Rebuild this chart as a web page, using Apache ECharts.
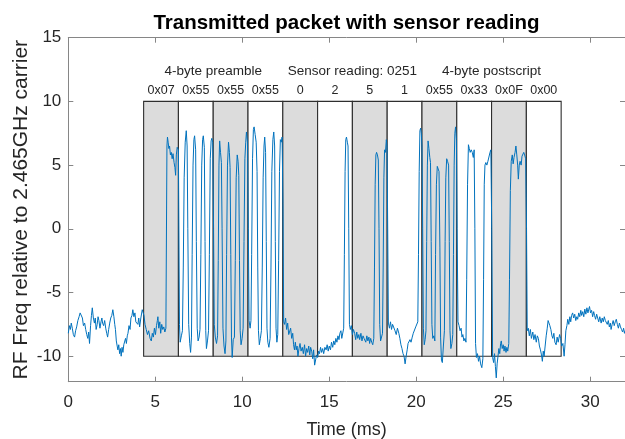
<!DOCTYPE html>
<html><head><meta charset="utf-8">
<script src="https://cdn.jsdelivr.net/npm/echarts@6/dist/echarts.min.js"></script>
<style>html,body{margin:0;padding:0;background:#fff}#chart{width:625px;height:439px}</style>
</head><body><div id="chart"></div>
<script>
// ---- tick labels ----
const xTicks = [0, 5, 10, 15, 20, 25, 30];
const yTicks = [-10, -5, 0, 5, 10, 15];

// ---- byte boxes ----
const byteLabels = ['0x07', '0x55', '0x55', '0x55', '0', '2', '5', '1', '0x55', '0x33', '0x0F', '0x00'];
const byteStarts = [4.33, 6.33, 8.33, 10.33, 12.33, 14.33, 16.33, 18.33, 20.33, 22.33, 24.33, 26.33];
const byteDurationMs = 2;
const boxRange = [-10, 10];
const groupLabels = ['4-byte preamble', 'Sensor reading: 0251', '4-byte postscript'];
const groupByteSpan = [[0, 3], [4, 7], [8, 11]];

const leadIn = [[0.00,-8.2],[0.06,-7.6],[0.12,-7.9],[0.17,-7.4],[0.23,-7.8],[0.29,-8.3],[0.36,-8.5],[0.42,-8.0],[0.48,-7.7],[0.55,-7.2],[0.62,-6.9],[0.68,-6.6],[0.75,-6.5],[0.81,-7.0],[0.87,-7.6],[0.94,-7.4],[1.00,-7.9],[1.06,-8.3],[1.12,-8.6],[1.17,-8.1],[1.22,-9.0],[1.28,-7.6],[1.33,-6.8],[1.38,-6.2],[1.44,-7.0],[1.50,-7.4],[1.55,-7.0],[1.60,-7.9],[1.66,-7.5],[1.71,-6.9],[1.76,-7.2],[1.82,-7.8],[1.88,-7.3],[1.93,-7.0],[1.97,-7.4],[2.03,-7.6],[2.09,-7.2],[2.15,-7.8],[2.21,-8.2],[2.26,-8.5],[2.32,-7.9],[2.38,-7.4],[2.44,-7.0],[2.50,-6.8],[2.56,-6.35],[2.62,-6.9],[2.67,-7.5],[2.71,-7.9],[2.76,-8.8],[2.81,-9.2],[2.85,-9.5],[2.90,-9.1],[2.95,-9.8],[3.00,-9.4],[3.04,-10.0],[3.09,-9.3],[3.14,-9.7],[3.19,-9.1],[3.24,-9.0],[3.29,-8.6],[3.34,-9.0],[3.39,-8.4],[3.43,-8.2],[3.49,-7.6],[3.55,-7.9],[3.60,-7.0],[3.66,-6.8],[3.71,-6.35],[3.77,-6.9],[3.83,-6.6],[3.88,-7.3],[3.94,-7.2],[4.00,-7.5],[4.05,-7.0],[4.10,-7.7],[4.17,-7.0],[4.25,-6.35],[4.29,-6.2],[4.35,-6.8]];
const pre0x07 = [[4.41,-7.5],[4.48,-7.9],[4.55,-8.3],[4.62,-8.0],[4.70,-8.6],[4.77,-8.8],[4.83,-8.2],[4.89,-8.5],[4.95,-7.8],[5.01,-8.3],[5.07,-7.6],[5.12,-7.2],[5.15,-6.9],[5.20,-7.8],[5.26,-7.3],[5.31,-8.2],[5.37,-7.5],[5.43,-7.9],[5.49,-7.7],[5.55,-8.1],[5.61,-7.8],[5.67,6.5],[5.70,7.2],[5.74,6.8],[5.78,6.3],[5.82,6.5],[5.87,5.8],[5.92,6.0],[5.97,5.5],[6.02,5.9],[6.08,5.2],[6.13,4.8],[6.17,4.2],[6.21,5.8],[6.26,6.4],[6.33,6.2],[6.39,-7.5],[6.43,-8.9]];
const pre0x55a = [[6.50,-8.4],[6.56,-8.0],[6.61,-3.0],[6.66,4.0],[6.72,6.8],[6.78,7.7],[6.83,6.5],[6.87,0.0],[6.92,-7.5],[6.98,-9.0],[7.03,-9.7],[7.08,-8.5],[7.12,-2.0],[7.17,5.0],[7.22,7.0],[7.26,7.3],[7.32,6.2],[7.36,-1.0],[7.41,-7.8],[7.46,-8.8],[7.52,-8.5],[7.57,-7.9],[7.62,-2.0],[7.67,5.0],[7.72,7.0],[7.76,7.3],[7.82,6.4],[7.86,-1.0],[7.90,-8.0],[7.94,-9.4],[8.00,-8.8],[8.06,-8.0],[8.11,-2.0],[8.16,5.5],[8.21,6.9],[8.25,7.1],[8.30,6.8],[8.35,0.0],[8.39,-7.5]];
const pre0x55b = [[8.45,-8.5],[8.52,-9.0],[8.58,-8.4],[8.62,-2.5],[8.66,5.0],[8.70,6.9],[8.75,6.0],[8.80,5.2],[8.84,0.0],[8.89,-7.8],[8.95,-9.2],[9.01,-9.8],[9.06,-8.8],[9.10,-2.0],[9.15,5.0],[9.21,6.8],[9.26,6.0],[9.30,4.8],[9.34,-2.0],[9.38,-8.5],[9.42,-10.1],[9.48,-8.7],[9.55,-8.5],[9.60,-2.5],[9.65,4.0],[9.71,5.8],[9.76,5.3],[9.80,4.2],[9.84,-2.5],[9.88,-8.0],[9.93,-9.1],[9.99,-8.6],[10.05,-7.8],[10.10,-1.0],[10.15,5.5],[10.20,6.8],[10.24,7.6],[10.30,6.8],[10.35,0.0],[10.39,-7.2]];
const pre0x55c = [[10.45,-7.8],[10.50,-7.2],[10.54,-2.0],[10.59,5.5],[10.64,7.8],[10.68,8.0],[10.74,7.4],[10.80,6.8],[10.85,4.5],[10.89,-3.0],[10.93,-8.0],[10.98,-9.1],[11.04,-8.6],[11.10,-8.0],[11.15,-3.0],[11.20,4.0],[11.25,6.5],[11.29,7.2],[11.34,6.0],[11.38,-1.0],[11.42,-7.8],[11.47,-8.9],[11.53,-9.3],[11.60,-8.6],[11.65,-3.0],[11.70,4.5],[11.76,7.0],[11.81,7.6],[11.86,6.5],[11.90,-1.0],[11.94,-7.8],[11.99,-8.9],[12.04,-8.3],[12.09,-2.5],[12.14,4.5],[12.19,7.0],[12.24,6.8],[12.29,7.2],[12.34,2.0],[12.38,-7.3]];
const digit0 = [[12.43,-7.5],[12.49,-7.0],[12.55,-7.9],[12.61,-7.4],[12.67,-8.3],[12.72,-8.4],[12.78,-7.8],[12.84,-8.6],[12.90,-8.2],[12.95,-9.1],[13.00,-9.5],[13.05,-8.9],[13.10,-9.5],[13.15,-9.2],[13.20,-10.0],[13.26,-9.4],[13.32,-9.0],[13.38,-9.6],[13.45,-9.3],[13.51,-9.8],[13.58,-9.1],[13.64,-10.0],[13.70,-9.4],[13.76,-9.7],[13.82,-9.2],[13.88,-9.9],[13.93,-9.3],[13.99,-9.6],[14.05,-10.2],[14.10,-9.5],[14.16,-10.7],[14.21,-10.8],[14.27,-9.9]];
const digit2 = [[14.33,-10.1],[14.39,-9.6],[14.44,-9.8],[14.50,-9.3],[14.56,-9.7],[14.62,-9.4],[14.68,-9.8],[14.75,-9.3],[14.82,-9.5],[14.88,-9.1],[14.94,-9.6],[15.00,-9.2],[15.07,-9.5],[15.13,-8.9],[15.20,-9.3],[15.26,-8.8],[15.32,-9.1],[15.38,-8.6],[15.44,-8.9],[15.50,-8.4],[15.56,-8.7],[15.61,-8.2],[15.67,-8.0],[15.72,-8.6],[15.78,-8.5],[15.83,-7.8],[15.87,-2.0],[15.91,4.5],[15.95,7.0],[15.99,7.2],[16.04,6.8],[16.08,6.5],[16.12,0.0],[16.16,-7.5],[16.21,-7.9],[16.27,-7.6]];
const digit5 = [[16.33,-8.3],[16.39,-7.9],[16.46,-8.2],[16.52,-8.7],[16.58,-8.1],[16.64,-8.6],[16.70,-8.3],[16.75,-8.7],[16.82,-8.2],[16.88,-8.8],[16.94,-8.4],[17.00,-8.6],[17.04,-8.5],[17.10,-8.9],[17.16,-8.4],[17.22,-8.8],[17.28,-8.5],[17.32,-9.0],[17.38,-8.6],[17.44,-8.9],[17.50,-9.1],[17.56,-8.6],[17.60,-3.0],[17.64,3.5],[17.68,5.8],[17.72,6.0],[17.77,5.8],[17.82,5.4],[17.86,0.0],[17.90,-7.5],[17.95,-8.8],[18.00,-8.9],[18.06,-8.2],[18.10,-3.0],[18.14,4.0],[18.18,6.2],[18.23,6.0],[18.28,7.0],[18.32,6.5],[18.36,0.0],[18.40,-7.4]];
const digit1 = [[18.46,-7.8],[18.52,-7.3],[18.58,-7.9],[18.64,-7.5],[18.72,-7.4],[18.78,-8.0],[18.85,-8.3],[18.92,-7.8],[19.00,-8.2],[19.06,-8.6],[19.12,-9.1],[19.18,-9.4],[19.24,-9.8],[19.30,-10.0],[19.36,-10.6],[19.42,-10.0],[19.48,-9.5],[19.53,-9.0],[19.58,-9.0],[19.64,-8.7],[19.70,-8.9],[19.77,-8.5],[19.83,-8.2],[19.90,-8.3],[19.97,-7.7],[20.04,-7.6],[20.09,-7.3],[20.13,-2.0],[20.17,4.5],[20.21,7.7],[20.25,7.9],[20.29,7.5],[20.33,6.5],[20.37,0.0],[20.41,-7.8],[20.46,-9.1]];
const post0x55 = [[20.51,-8.7],[20.56,-8.0],[20.60,-1.0],[20.64,5.0],[20.68,6.9],[20.73,6.3],[20.78,5.6],[20.82,5.2],[20.86,-1.0],[20.90,-7.5],[20.95,-8.6],[21.01,-8.4],[21.07,-8.8],[21.11,-2.0],[21.16,3.5],[21.21,4.9],[21.26,4.8],[21.31,4.5],[21.36,-1.5],[21.40,-8.5],[21.45,-10.3],[21.50,-10.5],[21.56,-9.2],[21.62,-8.0],[21.66,-1.0],[21.70,4.0],[21.75,5.5],[21.80,5.3],[21.86,5.0],[21.90,-1.0],[21.94,-8.0],[21.99,-9.4],[22.05,-9.0],[22.10,-8.3],[22.14,-2.0],[22.18,5.0],[22.22,7.5],[22.26,8.0],[22.31,7.0],[22.35,0.0],[22.40,-7.3]];
const post0x33 = [[22.46,-7.6],[22.52,-8.0],[22.58,-7.8],[22.63,-8.5],[22.68,-8.3],[22.74,-8.8],[22.80,-8.6],[22.86,-8.9],[22.90,-4.0],[22.95,3.5],[23.00,6.6],[23.05,6.3],[23.10,6.0],[23.16,6.2],[23.22,6.0],[23.28,5.6],[23.33,6.2],[23.37,0.0],[23.41,-9.0],[23.46,-10.1],[23.52,-9.8],[23.58,-10.4],[23.64,-10.0],[23.70,-10.6],[23.77,-10.9],[23.83,-10.2],[23.87,-4.0],[23.91,3.5],[23.95,5.0],[24.00,5.2],[24.06,5.0],[24.12,5.3],[24.18,5.4],[24.24,6.0],[24.29,6.2],[24.34,0.0],[24.39,-10.1]];
const post0x0F = [[24.45,-10.5],[24.50,-9.8],[24.55,-10.8],[24.60,-11.7],[24.65,-10.6],[24.70,-10.0],[24.75,-9.4],[24.80,-9.8],[24.85,-9.0],[24.89,-8.8],[24.94,-9.4],[25.00,-9.1],[25.05,-9.6],[25.10,-9.2],[25.16,-9.7],[25.21,-9.3],[25.26,-9.6],[25.32,-9.0],[25.36,-4.0],[25.41,3.0],[25.46,5.3],[25.52,5.8],[25.57,5.1],[25.62,5.6],[25.68,6.0],[25.73,6.5],[25.78,5.8],[25.83,5.0],[25.87,3.9],[25.92,5.0],[25.97,5.3],[26.03,5.0],[26.08,5.7],[26.13,5.6],[26.18,6.0],[26.23,5.8],[26.29,5.5],[26.34,0.0],[26.38,-8.0]];
const post0x00 = [[26.44,-7.8],[26.50,-8.4],[26.56,-7.9],[26.62,-8.6],[26.70,-8.1],[26.76,-8.7],[26.83,-8.3],[26.90,-8.9],[26.96,-8.4],[27.02,-8.6],[27.08,-9.2],[27.14,-9.5],[27.20,-9.9],[27.25,-10.4],[27.30,-9.6],[27.35,-10.0],[27.41,-9.2],[27.47,-8.4],[27.53,-7.8],[27.58,-7.2],[27.63,-7.1],[27.68,-7.6],[27.74,-7.9],[27.80,-8.4],[27.85,-8.6],[27.91,-8.2],[27.97,-8.9],[28.04,-9.1],[28.10,-8.5],[28.16,-8.9],[28.24,-8.3],[28.30,-8.6]];
const tailOut = [[28.36,-9.2],[28.43,-9.0],[28.50,-10.0],[28.55,-9.1],[28.60,-8.0],[28.66,-7.6],[28.71,-7.1],[28.77,-7.5],[28.83,-6.9],[28.88,-7.3],[28.93,-6.8],[28.99,-6.6],[29.05,-7.0],[29.11,-6.7],[29.17,-7.2],[29.23,-6.9],[29.28,-7.1],[29.34,-6.6],[29.40,-6.9],[29.46,-6.4],[29.51,-6.8],[29.57,-6.5],[29.63,-6.9],[29.69,-6.3],[29.75,-6.7],[29.81,-6.2],[29.87,-6.6],[29.92,-6.3],[29.96,-6.1],[30.02,-6.6],[30.08,-6.4],[30.14,-6.9],[30.20,-6.5],[30.25,-6.8],[30.31,-7.1],[30.37,-6.7],[30.43,-7.0],[30.49,-7.3],[30.55,-6.9],[30.63,-7.4],[30.69,-7.0],[30.75,-7.3],[30.81,-6.9],[30.87,-7.2],[30.92,-7.1],[30.98,-7.5],[31.04,-7.2],[31.10,-7.7],[31.16,-7.4],[31.20,-7.9],[31.26,-7.5],[31.32,-7.2],[31.38,-7.6],[31.44,-7.3],[31.50,-7.1],[31.56,-7.5],[31.62,-7.8],[31.68,-7.4],[31.74,-7.7],[31.80,-7.9],[31.86,-8.1],[31.92,-7.8],[31.97,-8.2],[32.00,-8.0]];

const signal = [].concat(leadIn, pre0x07, pre0x55a, pre0x55b, pre0x55c, digit0, digit2, digit5, digit1, post0x55, post0x33, post0x0F, post0x00, tailOut);

const FONT = '"Liberation Sans", Arial, Helvetica, sans-serif';
const AXIS_GRAY = '#868686';
const TEXT = '#262626';

const chart = echarts.init(document.getElementById('chart'), null, {renderer: 'canvas'});

function axisCommon(ticks, showLabels) {
  return {
    axisLine: {show: true, onZero: false, lineStyle: {color: AXIS_GRAY, width: 1}},
    axisTick: {show: true, inside: true, length: 5, customValues: ticks, lineStyle: {color: AXIS_GRAY, width: 1}},
    axisLabel: {show: showLabels, customValues: ticks, color: TEXT, fontSize: 17, fontFamily: FONT},
    splitLine: {show: false}
  };
}

const xBottom = Object.assign({type: 'value', min: 0, max: 32, position: 'bottom',
  name: 'Time (ms)', nameLocation: 'middle', nameGap: 39, nameMoveOverlap: false,
  nameTextStyle: {color: TEXT, fontSize: 18, fontFamily: FONT}}, axisCommon(xTicks, true));
xBottom.axisLabel.margin = 12;
const xTop = Object.assign({type: 'value', min: 0, max: 32, position: 'top'}, axisCommon(xTicks, false));
const yLeft = Object.assign({type: 'value', min: -12, max: 15, position: 'left',
  name: 'RF Freq relative to 2.465GHz carrier', nameLocation: 'middle', nameGap: 37, nameMoveOverlap: false,
  nameTextStyle: {color: TEXT, fontSize: 21, fontFamily: FONT}}, axisCommon(yTicks, true));
yLeft.axisLabel.margin = 7;
const yRight = Object.assign({type: 'value', min: -12, max: 15, position: 'right'}, axisCommon(yTicks, false));

const boxData = byteStarts.map((s, i) => [s, i]);
const groupData = groupByteSpan.map((span, g) => [(byteStarts[span[0]] + byteStarts[span[1]] + byteDurationMs) / 2, g]);

chart.setOption({
  animation: false,
  backgroundColor: '#fff',
  title: {
    text: 'Transmitted packet with sensor reading',
    left: 341.5, top: 8, textAlign: 'center',
    textStyle: {fontSize: 20.5, fontWeight: 'bold', color: '#000', fontFamily: FONT}
  },
  grid: {left: 68.3, right: 0, top: 37.7, bottom: 57.3, containLabel: false, outerBoundsMode: 'none'},
  xAxis: [xBottom, xTop],
  yAxis: [yLeft, yRight],
  series: [
    {
      type: 'custom', xAxisIndex: 0, yAxisIndex: 0, z: 1, clip: false,
      data: boxData,
      renderItem: function (params, api) {
        const s = api.value(0), i = api.value(1);
        const p0 = api.coord([s, boxRange[1]]);
        const p1 = api.coord([s + byteDurationMs, boxRange[0]]);
        return {
          type: 'group',
          children: [
            {type: 'rect', shape: {x: p0[0], y: p0[1], width: p1[0] - p0[0], height: p1[1] - p0[1]},
             style: {fill: i % 2 === 0 ? '#dcdcdc' : '#ffffff', stroke: '#2e2e2e', lineWidth: 1.1}},
            {type: 'text', style: {text: byteLabels[i], x: (p0[0] + p1[0]) / 2, y: p0[1] - 11,
             align: 'center', verticalAlign: 'middle', font: '12.5px ' + FONT, fill: TEXT}}
          ]
        };
      }
    },
    {
      type: 'custom', xAxisIndex: 0, yAxisIndex: 0, z: 1, clip: false,
      data: groupData,
      renderItem: function (params, api) {
        const p = api.coord([api.value(0), boxRange[1]]);
        return {type: 'text', style: {text: groupLabels[api.value(1)], x: p[0], y: p[1] - 30,
          align: 'center', verticalAlign: 'middle', font: '13.5px ' + FONT, fill: TEXT}};
      }
    },
    {
      type: 'line', xAxisIndex: 0, yAxisIndex: 0, z: 3,
      data: signal, showSymbol: false, symbol: 'none', clip: true,
      lineStyle: {color: '#0072BD', width: 1},
      emphasis: {disabled: true}
    }
  ]
});
</script>
</body></html>
